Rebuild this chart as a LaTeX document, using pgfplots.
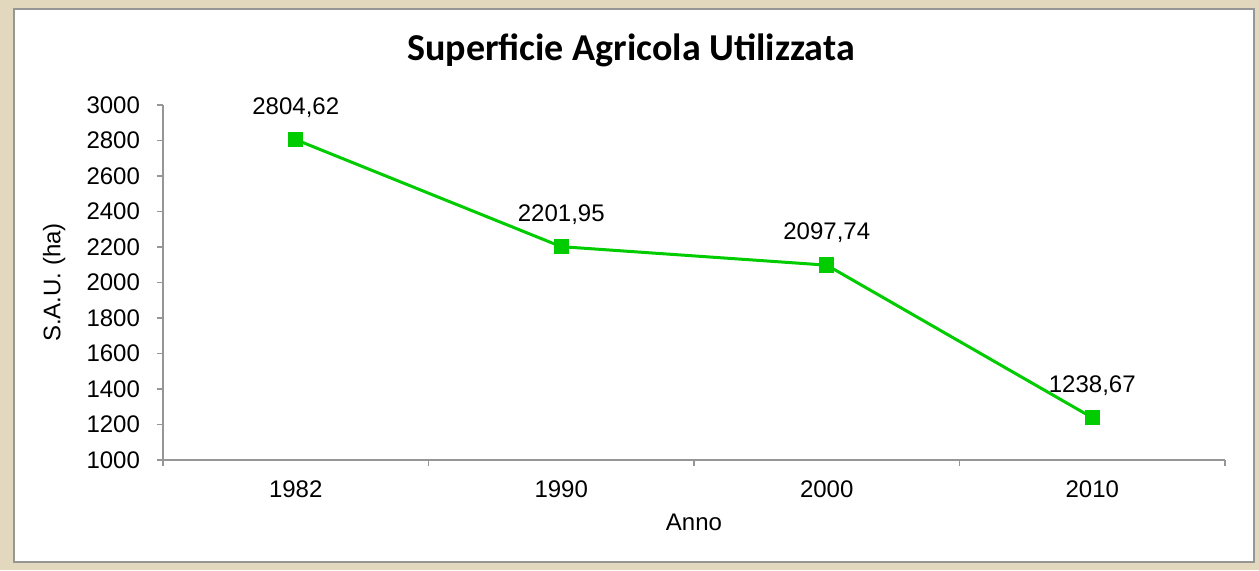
\documentclass[border=0pt]{standalone}
\usepackage{pgfplots}
\pgfplotsset{compat=1.18}
\usepackage{fontspec}
\setmainfont{Liberation Sans}
\newfontfamily\titlefont{Carlito}

\definecolor{frame}{RGB}{226,216,190}
\definecolor{axgray}{RGB}{150,150,150}
\definecolor{linegreen}{RGB}{0,204,0}

\begin{document}
\begin{tikzpicture}
  % cornice e sfondo
  \fill[frame] (0,0) rectangle (629.5pt,285pt);
  \draw[fill=white, draw=axgray, line width=1.2pt] (7pt,4pt) rectangle (627pt,280.5pt);
  \node[font=\titlefont\bfseries\fontsize{19}{22}\selectfont] at (315.5pt,260pt) {Superficie Agricola Utilizzata};

  \begin{axis}[
      at={(81.5pt,55pt)}, anchor=south west,
      width=531pt, height=177.5pt, scale only axis,
      xmin=0, xmax=4,
      ymin=1000, ymax=3000,
      ytick={1000,1200,...,3000},
      xtick={0.5,1.5,2.5,3.5},
      xticklabels={1982,1990,2000,2010},
      minor xtick={0,1,2,3,4},
      major x tick style={draw=none},
      axis x line=bottom, axis y line=left,
      axis line style={-, draw=axgray, line width=0.6pt},
      tick style={draw=axgray, line width=0.6pt},
      tick align=outside,
      major tick length=3pt, minor tick length=3pt,
      ticklabel style={font=\fontsize{12}{14}\selectfont},
      /pgf/number format/assume math mode=true,
      /pgf/number format/1000 sep={},
      every x tick label/.append style={yshift=-4pt},
      every y tick label/.append style={anchor=east, xshift=-5pt},
      xlabel={Anno},
      ylabel={S.A.U. (ha)},
      label style={font=\fontsize{12}{14}\selectfont},
      xlabel style={at={(axis description cs:0.5,-0.1746)}, anchor=center},
      ylabel style={at={(axis description cs:-0.1025,0.5)}, anchor=center},
      nodes near coords={\pgfmathprintnumber[fixed,fixed zerofill,precision=2,use comma,1000 sep={},assume math mode=true]{\pgfplotspointmeta}},
      every node near coord/.append style={font=\fontsize{12}{14}\selectfont, anchor=center, yshift=16pt, text=black},
      clip=false,
    ]
    \addplot[color=linegreen, line width=1.5pt, mark=square*, mark size=3.6pt,
      mark options={fill=linegreen, draw=linegreen, line width=0pt}]
      coordinates {(0.5,2804.62) (1.5,2201.95) (2.5,2097.74) (3.5,1238.67)};
  \end{axis}
\end{tikzpicture}
\end{document}
